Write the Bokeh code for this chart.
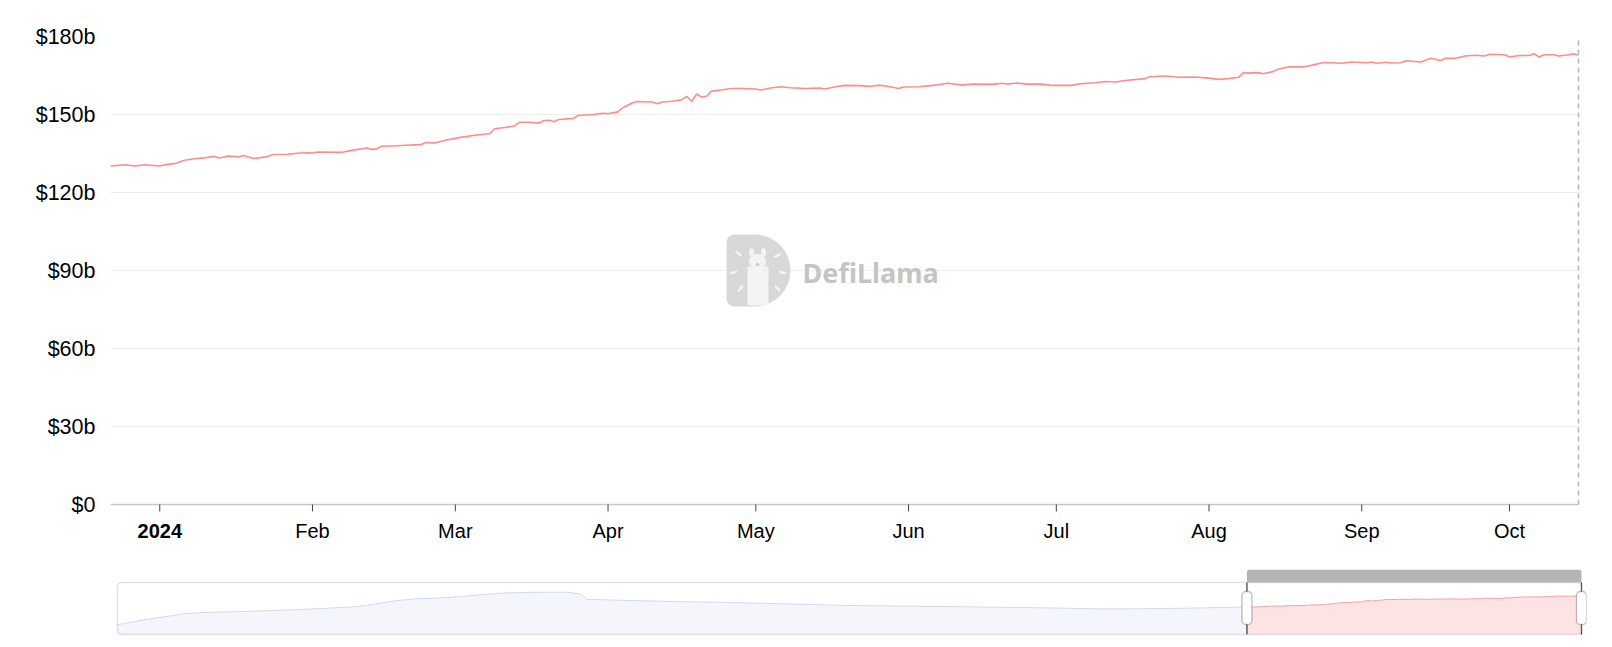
import math
import pandas as pd
from bokeh.plotting import figure
from bokeh.layouts import column
from bokeh.models import (FixedTicker, BoxAnnotation, Range1d)
from bokeh.core.properties import value
from bokeh.embed import file_html
from bokeh.resources import INLINE

# ---------------- data ----------------
main_dates = [
    "2023-12-22", "2023-12-25", "2023-12-27", "2023-12-29", "2024-01-01", "2024-01-02",
    "2024-01-04", "2024-01-06", "2024-01-08", "2024-01-10", "2024-01-12", "2024-01-13",
    "2024-01-15", "2024-01-17", "2024-01-18", "2024-01-20", "2024-01-21", "2024-01-23",
    "2024-01-24", "2024-01-27", "2024-01-29", "2024-01-31", "2024-02-01", "2024-02-02",
    "2024-02-07", "2024-02-09", "2024-02-12", "2024-02-13", "2024-02-14", "2024-02-15",
    "2024-02-18", "2024-02-20", "2024-02-23", "2024-02-24", "2024-02-26", "2024-02-28",
    "2024-03-02", "2024-03-05", "2024-03-08", "2024-03-09", "2024-03-11", "2024-03-13",
    "2024-03-14", "2024-03-16", "2024-03-18", "2024-03-19", "2024-03-20", "2024-03-21",
    "2024-03-22", "2024-03-25", "2024-03-26", "2024-03-29", "2024-03-31", "2024-04-01",
    "2024-04-03", "2024-04-04", "2024-04-06", "2024-04-07", "2024-04-10", "2024-04-11",
    "2024-04-12", "2024-04-14", "2024-04-16", "2024-04-17", "2024-04-18", "2024-04-19",
    "2024-04-20", "2024-04-21", "2024-04-22", "2024-04-24", "2024-04-26", "2024-04-28",
    "2024-05-01", "2024-05-02", "2024-05-04", "2024-05-06", "2024-05-08", "2024-05-11",
    "2024-05-14", "2024-05-15", "2024-05-17", "2024-05-19", "2024-05-22", "2024-05-24",
    "2024-05-26", "2024-05-28", "2024-05-30", "2024-05-31", "2024-06-03", "2024-06-06",
    "2024-06-09", "2024-06-12", "2024-06-14", "2024-06-18", "2024-06-20", "2024-06-21",
    "2024-06-23", "2024-06-25", "2024-06-28", "2024-06-30", "2024-07-04", "2024-07-06",
    "2024-07-09", "2024-07-11", "2024-07-13", "2024-07-15", "2024-07-18", "2024-07-19",
    "2024-07-20", "2024-07-23", "2024-07-26", "2024-07-29", "2024-08-01", "2024-08-03",
    "2024-08-05", "2024-08-07", "2024-08-08", "2024-08-09", "2024-08-11", "2024-08-12",
    "2024-08-14", "2024-08-15", "2024-08-17", "2024-08-20", "2024-08-22", "2024-08-24",
    "2024-08-26", "2024-08-28", "2024-08-30", "2024-09-02", "2024-09-03", "2024-09-04",
    "2024-09-06", "2024-09-07", "2024-09-09", "2024-09-10", "2024-09-13", "2024-09-15",
    "2024-09-17", "2024-09-18", "2024-09-20", "2024-09-22", "2024-09-24", "2024-09-26",
    "2024-09-27", "2024-09-30", "2024-10-01", "2024-10-03", "2024-10-05", "2024-10-06",
    "2024-10-07", "2024-10-08", "2024-10-10", "2024-10-11", "2024-10-13", "2024-10-14",
    "2024-10-15",
]
main_values = [
    130.2, 130.7, 130.2, 130.7, 130.2, 130.7,
    131.1, 132.4, 133.0, 133.3, 133.9, 133.3,
    134.0, 133.7, 134.2, 133.1, 133.3, 133.9,
    134.6, 134.7, 135.1, 135.3, 135.2, 135.6,
    135.5, 136.2, 137.1, 136.6, 136.7, 137.8,
    138.0, 138.2, 138.4, 139.2, 139.1, 140.1,
    141.2, 142.0, 142.7, 144.5, 145.0, 145.6,
    147.0, 147.0, 146.7, 147.7, 147.8, 147.2,
    148.1, 148.5, 149.7, 150.0, 150.5, 150.3,
    151.0, 152.6, 154.5, 155.0, 154.8, 154.1,
    154.8, 155.1, 155.7, 157.0, 155.0, 157.9,
    156.7, 157.0, 159.0, 159.4, 160.0, 160.0,
    159.8, 159.4, 160.2, 160.7, 160.3, 160.0,
    160.2, 159.8, 160.6, 161.2, 161.1, 160.8,
    161.3, 160.8, 160.0, 160.6, 160.7, 161.2,
    162.0, 161.3, 161.7, 161.6, 162.0, 161.7,
    162.1, 161.7, 161.7, 161.2, 161.2, 161.8,
    162.2, 162.7, 162.5, 163.1, 163.6, 163.8,
    164.5, 164.8, 164.3, 164.4, 164.0, 163.5,
    163.8, 164.3, 166.1, 165.9, 166.1, 165.7,
    166.5, 167.4, 168.3, 168.3, 169.0, 169.9,
    169.9, 169.7, 170.2, 169.9, 170.2, 169.7,
    170.1, 169.8, 169.9, 170.7, 170.2, 171.6,
    170.8, 171.6, 171.6, 172.5, 172.8, 172.5,
    173.2, 173.0, 172.1, 172.7, 172.7, 173.4,
    172.1, 173.0, 173.0, 172.5, 173.0, 173.4,
    172.8,
]

# longer history shown in the zoom slider (before the selected window)
history_dates = [
    "2021-03-21", "2021-03-31", "2021-04-17", "2021-05-04", "2021-05-21", "2021-06-06",
    "2021-07-18", "2021-08-29", "2021-10-19", "2021-11-05", "2021-11-22", "2021-12-09",
    "2022-01-12", "2022-02-06", "2022-03-03", "2022-03-28", "2022-04-27", "2022-05-08",
    "2022-05-13", "2022-06-12", "2022-08-01", "2022-09-20", "2022-10-24", "2022-12-30",
    "2023-04-10", "2023-07-03", "2023-08-22", "2023-09-25", "2023-11-06",
]
history_values = [
    60.4, 69.3, 81.9, 93.3, 104.7, 108.5,
    113.6, 119.9, 131.3, 141.4, 154.0, 161.6,
    168.0, 178.1, 185.7, 188.2, 188.2, 180.6,
    160.4, 156.6, 151.5, 147.7, 143.9, 136.3,
    131.3, 126.2, 122.4, 123.7, 126.2,
]

y_ticks = [0, 30, 60, 90, 120, 150, 180]
y_tick_labels = ["$0", "$30b", "$60b", "$90b", "$120b", "$150b", "$180b"]
x_tick_dates = ["2024-01-01", "2024-02-01", "2024-03-01", "2024-04-01", "2024-05-01",
                "2024-06-01", "2024-07-01", "2024-08-01", "2024-09-01", "2024-10-01"]
x_tick_labels = ["2024", "Feb", "Mar", "Apr", "May", "Jun", "Jul", "Aug", "Sep", "Oct"]


def ms(s):
    return pd.Timestamp(s).value / 1e6


FONT = "Liberation Sans"
LINE_COLOR = "#ff8c8c"

main_x = pd.to_datetime(main_dates)
hist_x = pd.to_datetime(history_dates)
X0, X1 = ms(main_dates[0]), ms(main_dates[-1])

# ---------------- main chart ----------------
FW = 1468            # pixel width of the data span
PLOT_H = 468         # pixel height of the 0..180 band
BELOW = 44           # extra room under $0 for the date axis labels
ky = 180 / PLOT_H    # $b per pixel
kx = (X1 - X0) / FW  # ms per pixel

p = figure(frame_width=FW + 2, frame_height=PLOT_H + BELOW, min_border_left=110,
           min_border_right=24, min_border_top=36, min_border_bottom=4,
           x_axis_type="datetime", x_range=Range1d(X0, X1 + 2 * kx),
           y_range=Range1d(-BELOW * ky, 180), x_axis_location=None,
           output_backend="svg", toolbar_location=None)
p.outline_line_color = None
p.background_fill_color = "white"
p.border_fill_color = "white"
p.xgrid.visible = False
p.ygrid.ticker = FixedTicker(ticks=y_ticks)
p.ygrid.grid_line_color = "#eeeeee"
p.ygrid.grid_line_width = 1

p.yaxis.ticker = FixedTicker(ticks=y_ticks)
p.yaxis.major_label_overrides = dict(zip(y_ticks, y_tick_labels))
p.yaxis.axis_line_color = None
p.yaxis.major_tick_line_color = None
p.yaxis.major_tick_out = 0
p.yaxis.major_tick_in = 0
p.yaxis.minor_tick_line_color = None
p.yaxis.major_label_standoff = 15
p.yaxis.major_label_text_font_size = "21.5px"
p.yaxis.major_label_text_font = FONT
p.yaxis.major_label_text_color = "#000000"

# date axis at $0 (ticks + labels on the time scale)
x_ticks = [ms(d) for d in x_tick_dates]
p.segment(x0=[X0], y0=[0], x1=[X1], y1=[0], line_color="#c6c6c6", line_width=1.5)
p.segment(x0=x_ticks, y0=[0] * len(x_ticks), x1=x_ticks, y1=[-7 * ky] * len(x_ticks),
          line_color="#444444", line_width=1)
p.text(x=x_ticks[1:], y=[-26 * ky] * (len(x_ticks) - 1), text=x_tick_labels[1:],
       text_font=value(FONT), text_font_size="20px", text_color="#000000",
       text_align="center", text_baseline="middle")
p.text(x=x_ticks[:1], y=[-26 * ky], text=x_tick_labels[:1],
       text_font=value(FONT), text_font_size="20px", text_font_style="bold",
       text_color="#000000", text_align="center", text_baseline="middle")

# watermark (centered in the 0..180 band)
xm = (X0 + X1) / 2


def wx(dx):
    return xm + dx * kx


def wy(dy):
    return 90 - dy * ky


p.add_layout(BoxAnnotation(left=wx(-118), right=wx(-54), top=wy(-36), bottom=wy(36),
                           fill_color="#d8d8d8", fill_alpha=1, line_color=None,
                           border_radius=(8, 36, 36, 8), level="underlay"))
LL = "#f3f3f3"
p.quad(left=[wx(-97)], right=[wx(-76)], top=[wy(-4)], bottom=[wy(35)],
       fill_color=LL, line_color=None)
p.ellipse(x=[wx(-87)], y=[wy(-9)], width=17, height=15, width_units="screen",
          height_units="screen", fill_color=LL, line_color=None)
p.ellipse(x=[wx(-93), wx(-81)], y=[wy(-18), wy(-18)], width=5, height=9,
          width_units="screen", height_units="screen", fill_color=LL, line_color=None)
p.ellipse(x=[wx(-87)], y=[wy(-6)], width=4, height=3, width_units="screen",
          height_units="screen", fill_color="#c9c9c9", line_color=None)
ray_pos = [(-106, -17), (-111, 2), (-104, 18), (-67, -15), (-62, 2), (-67, 18)]
rx0, ry0, rx1, ry1 = [], [], [], []
for dx, dy in ray_pos:
    vx, vy = dx + 87, dy + 4
    n = math.hypot(vx, vy)
    ux, uy = vx / n, vy / n
    rx0.append(wx(dx - 2.5 * ux)); ry0.append(wy(dy - 2.5 * uy))
    rx1.append(wx(dx + 2.5 * ux)); ry1.append(wy(dy + 2.5 * uy))
p.segment(x0=rx0, y0=ry0, x1=rx1, y1=ry1, line_color=LL, line_width=2.5,
          line_cap="round")
p.text(x=[wx(-42)], y=[wy(2)], text=["DefiLlama"], text_font=value("Noto Sans"),
       text_font_size="27px", text_font_style="bold", text_color="#c4c4c4",
       text_align="left", text_baseline="middle")

p.line(main_x, main_values, line_color=LINE_COLOR, line_width=1.6)
p.segment(x0=[X1], y0=[0], x1=[X1], y1=[180], line_color="#b3b6c6",
          line_dash="5 4", line_width=1.5)

# ---------------- zoom slider ----------------
all_vals = history_values + main_values
vmin, vmax = min(all_vals), max(all_vals)
lo = vmin - 0.3 * (vmax - vmin)
hi = vmax + 0.3 * (vmax - vmin)
sky = (hi - lo) / 52                     # $b per px inside the slider box
XS0 = ms(history_dates[0])
SFW = 1476
skx = (X1 - XS0) / 1464                  # ms per px inside the slider box
s = figure(frame_width=SFW, frame_height=67, min_border_left=110, min_border_right=18,
           min_border_top=17, min_border_bottom=0,
           x_axis_type="datetime",
           x_range=Range1d(XS0 - 7 * skx, XS0 + (SFW - 7) * skx),
           y_range=Range1d(lo - 2 * sky, hi + 13 * sky),
           x_axis_location=None, y_axis_location=None,
           output_backend="svg", toolbar_location=None)
s.outline_line_color = None
s.grid.visible = False
s.background_fill_color = "white"
s.border_fill_color = "white"

bx = list(hist_x) + [main_x[0]]
by = history_values + [main_values[0]]
s.varea(x=bx, y1=[lo] * len(bx), y2=by, fill_color="#f4f6fb")
s.line(bx, by, line_color="#d2dbee", line_width=1)
s.varea(x=main_x, y1=[lo] * len(main_x), y2=main_values, fill_color="#fce4e4")
s.line(main_x, main_values, line_color="#f2a0a0", line_width=1)

s.add_layout(BoxAnnotation(left=XS0, right=X1, bottom=lo, top=hi, fill_alpha=0,
                           line_color="#a0a0a0", line_width=1.5, border_radius=4))
s.add_layout(BoxAnnotation(left=X0, right=X1, bottom=hi, top=hi + 13 * sky,
                           fill_color="#b4b4b4", fill_alpha=1, line_color=None,
                           border_radius=(3, 3, 0, 0)))
s.segment(x0=[X0, X1], y0=[lo, lo], x1=[X0, X1], y1=[hi, hi], line_color="#333333",
          line_width=1.2)
for hx in (X0, X1):
    s.add_layout(BoxAnnotation(left=hx - 5 * skx, right=hx + 5 * skx,
                               top=hi - 9 * sky, bottom=hi - 42 * sky,
                               fill_color="white", fill_alpha=1, line_color="#222222",
                               line_width=1.3, border_radius=4))
# grip on the selection bar
gx = (X0 + X1) / 2
gxs = [gx - 3 * skx, gx, gx + 3 * skx]
s.segment(x0=gxs, y0=[hi + 4 * sky] * 3, x1=gxs, y1=[hi + 9 * sky] * 3,
          line_color="white", line_width=1.2)

layout = column(p, s, spacing=0)
open("out.html", "w").write(file_html(layout, INLINE))
